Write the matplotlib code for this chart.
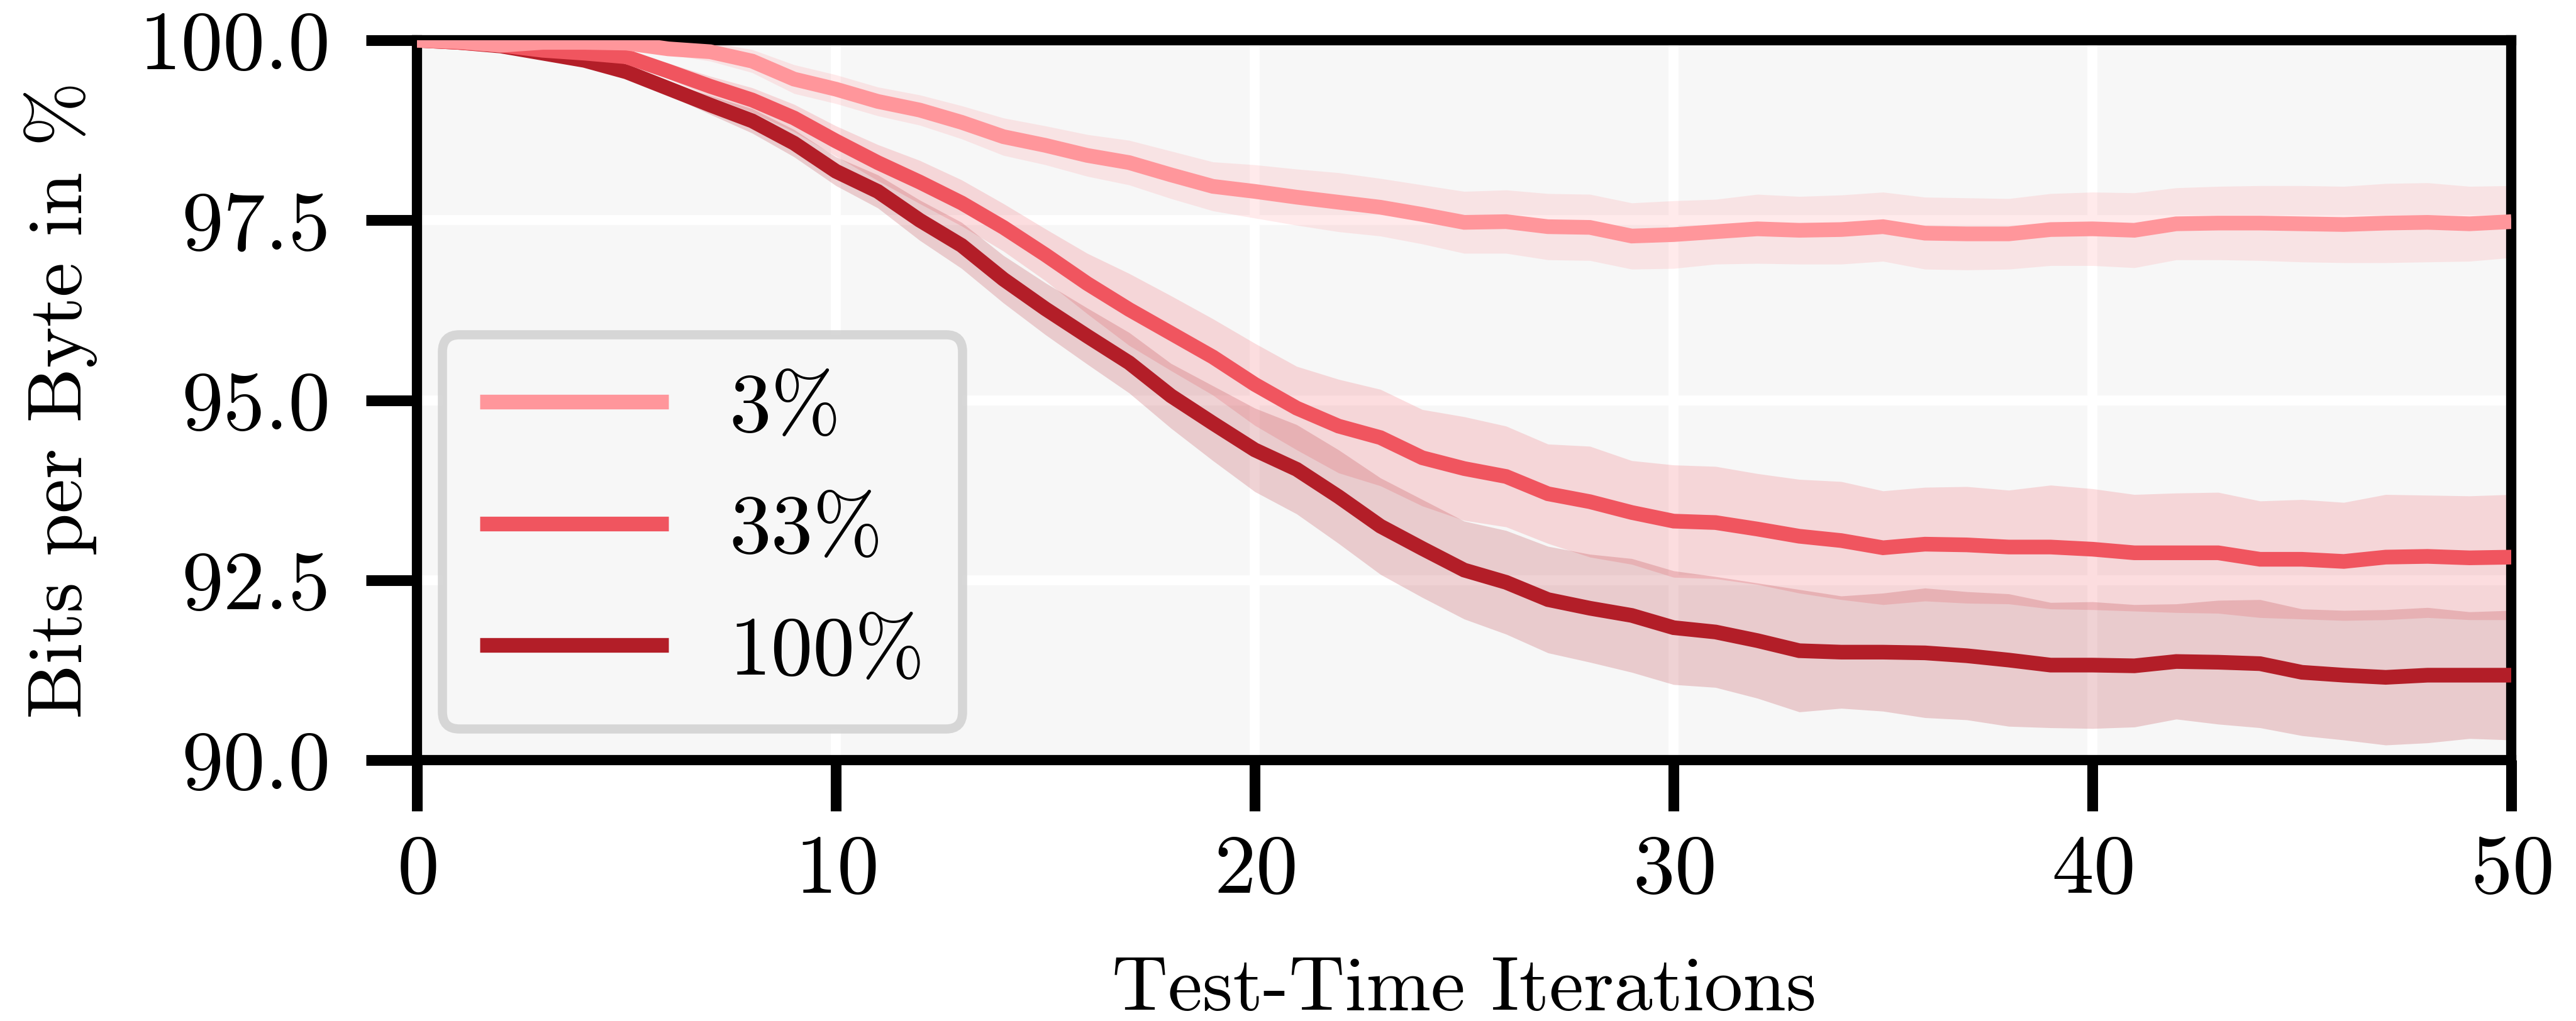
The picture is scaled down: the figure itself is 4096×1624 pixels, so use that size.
import matplotlib
matplotlib.use("Agg")
import matplotlib.pyplot as plt
import numpy as np
from matplotlib.ticker import FormatStrFormatter, FixedLocator

plt.rcParams.update({
    "font.family": "serif",
    "font.serif": ["cmr10"],
    "mathtext.fontset": "cm",
    "axes.formatter.use_mathtext": True,
    "axes.unicode_minus": False,
})

# Test-time iterations
iterations = list(range(51))

# Share of adapted data per run
labels = ["3%", "33%", "100%"]

# Mean bits per byte (in % of the initial value) and spread per iteration
bpb_3 = [100.0, 99.98, 99.93, 99.97, 99.97, 99.96, 99.88, 99.84, 99.71, 99.46,
         99.32, 99.15, 99.03, 98.86, 98.66, 98.54, 98.40, 98.30, 98.13, 97.97,
         97.90, 97.82, 97.75, 97.68, 97.58, 97.47, 97.48, 97.41, 97.40, 97.28,
         97.30, 97.34, 97.38, 97.36, 97.37, 97.41, 97.32, 97.31, 97.31, 97.37,
         97.38, 97.36, 97.45, 97.46, 97.46, 97.45, 97.44, 97.46, 97.47, 97.45, 97.48]
std_3 = [0.0, 0.01, 0.02, 0.02, 0.03, 0.04, 0.08, 0.13, 0.16, 0.20,
         0.20, 0.20, 0.21, 0.23, 0.26, 0.27, 0.29, 0.31, 0.33, 0.34,
         0.37, 0.39, 0.41, 0.40, 0.41, 0.43, 0.44, 0.46, 0.46, 0.46,
         0.47, 0.45, 0.48, 0.47, 0.48, 0.48, 0.50, 0.50, 0.49, 0.50,
         0.51, 0.52, 0.50, 0.51, 0.52, 0.53, 0.53, 0.55, 0.55, 0.52, 0.50]

bpb_33 = [100.0, 99.97, 99.93, 99.86, 99.82, 99.77, 99.57, 99.36, 99.17, 98.92,
          98.60, 98.30, 98.03, 97.74, 97.40, 97.02, 96.62, 96.26, 95.93, 95.60,
          95.22, 94.89, 94.64, 94.48, 94.20, 94.05, 93.94, 93.70, 93.59, 93.44,
          93.32, 93.30, 93.21, 93.11, 93.05, 92.95, 93.00, 92.99, 92.96, 92.96,
          92.93, 92.88, 92.88, 92.88, 92.79, 92.79, 92.76, 92.82, 92.83, 92.81, 92.82]
std_33 = [0.0, 0.01, 0.02, 0.04, 0.06, 0.08, 0.11, 0.14, 0.17, 0.19,
          0.21, 0.25, 0.30, 0.32, 0.33, 0.36, 0.42, 0.50, 0.52, 0.53,
          0.57, 0.58, 0.65, 0.67, 0.67, 0.72, 0.70, 0.69, 0.77, 0.72,
          0.78, 0.78, 0.77, 0.79, 0.82, 0.79, 0.79, 0.81, 0.79, 0.86,
          0.84, 0.81, 0.83, 0.84, 0.81, 0.83, 0.82, 0.87, 0.85, 0.86, 0.87]

bpb_100 = [100.0, 99.97, 99.92, 99.82, 99.72, 99.56, 99.33, 99.10, 98.88, 98.57,
           98.18, 97.90, 97.50, 97.15, 96.68, 96.27, 95.89, 95.52, 95.06, 94.68,
           94.31, 94.04, 93.66, 93.25, 92.94, 92.64, 92.47, 92.23, 92.11, 92.01,
           91.84, 91.78, 91.66, 91.52, 91.50, 91.50, 91.49, 91.45, 91.39, 91.32,
           91.32, 91.31, 91.37, 91.36, 91.34, 91.22, 91.18, 91.15, 91.18, 91.18, 91.18]
std_100 = [0.0, 0.02, 0.03, 0.05, 0.06, 0.07, 0.09, 0.13, 0.17, 0.19,
           0.20, 0.23, 0.28, 0.32, 0.33, 0.36, 0.39, 0.42, 0.45, 0.52,
           0.58, 0.62, 0.65, 0.67, 0.68, 0.68, 0.72, 0.74, 0.75, 0.79,
           0.79, 0.77, 0.80, 0.85, 0.78, 0.82, 0.90, 0.89, 0.92, 0.87,
           0.88, 0.85, 0.80, 0.86, 0.89, 0.88, 0.90, 0.94, 0.94, 0.88, 0.90]

colors = ["#ff969b", "#f0555f", "#b31e28"]

x_ticks = [0, 10, 20, 30, 40, 50]
y_ticks = [90.0, 92.5, 95.0, 97.5, 100.0]

DPI = 300
fig = plt.figure(figsize=(4096 / DPI, 1624 / DPI), dpi=DPI)
ax = fig.add_axes([0.1619, 0.2555, 0.8130, 0.7051])
ax.set_facecolor("#f7f7f7")

x = np.array(iterations)
series = [(bpb_3, std_3), (bpb_33, std_33), (bpb_100, std_100)]

for (mean, std), color in zip(series, colors):
    mean = np.array(mean)
    std = np.array(std)
    ax.fill_between(x, mean - std, mean + std, color=color, alpha=0.2,
                    linewidth=0, zorder=1)

handles = [None] * 3
for i in (2, 1, 0):
    mean, _ = series[i]
    (ln,) = ax.plot(x, mean, color=colors[i], linewidth=5.6, zorder=3,
                    solid_capstyle="butt", solid_joinstyle="miter")
    handles[i] = ln

ax.set_xlim(0, 50)
ax.set_ylim(90, 100)
ax.xaxis.set_major_locator(FixedLocator(x_ticks))
ax.yaxis.set_major_locator(FixedLocator(y_ticks))
ax.yaxis.set_major_formatter(FormatStrFormatter("%.1f"))

ax.set_axisbelow(True)
ax.grid(True, color="white", linewidth=3.8)

for s in ax.spines.values():
    s.set_linewidth(3.9)
    s.set_color("black")
    s.set_zorder(2.5)

ax.tick_params(axis="both", direction="out", length=19.5, width=4.1,
               labelsize=32, color="black")
ax.tick_params(axis="y", pad=13.5)
ax.tick_params(axis="x", pad=9)

ax.set_xlabel("Test-Time Iterations", fontsize=29.6, labelpad=18)
ax.set_ylabel("Bits per Byte in %", fontsize=29.6, labelpad=16)

leg = ax.legend(handles, labels, loc="lower left",
                bbox_to_anchor=(0.012, 0.044), borderaxespad=0,
                fontsize=32, frameon=True, fancybox=True,
                edgecolor="#d3d3d3", facecolor="#f7f7f7", framealpha=0.9,
                handlelength=2.25, handletextpad=0.72, labelspacing=0.556,
                borderpad=0.45)
leg.get_frame().set_linewidth(3.5)
leg.set_zorder(5)

fig.savefig("out.png", dpi=DPI)
